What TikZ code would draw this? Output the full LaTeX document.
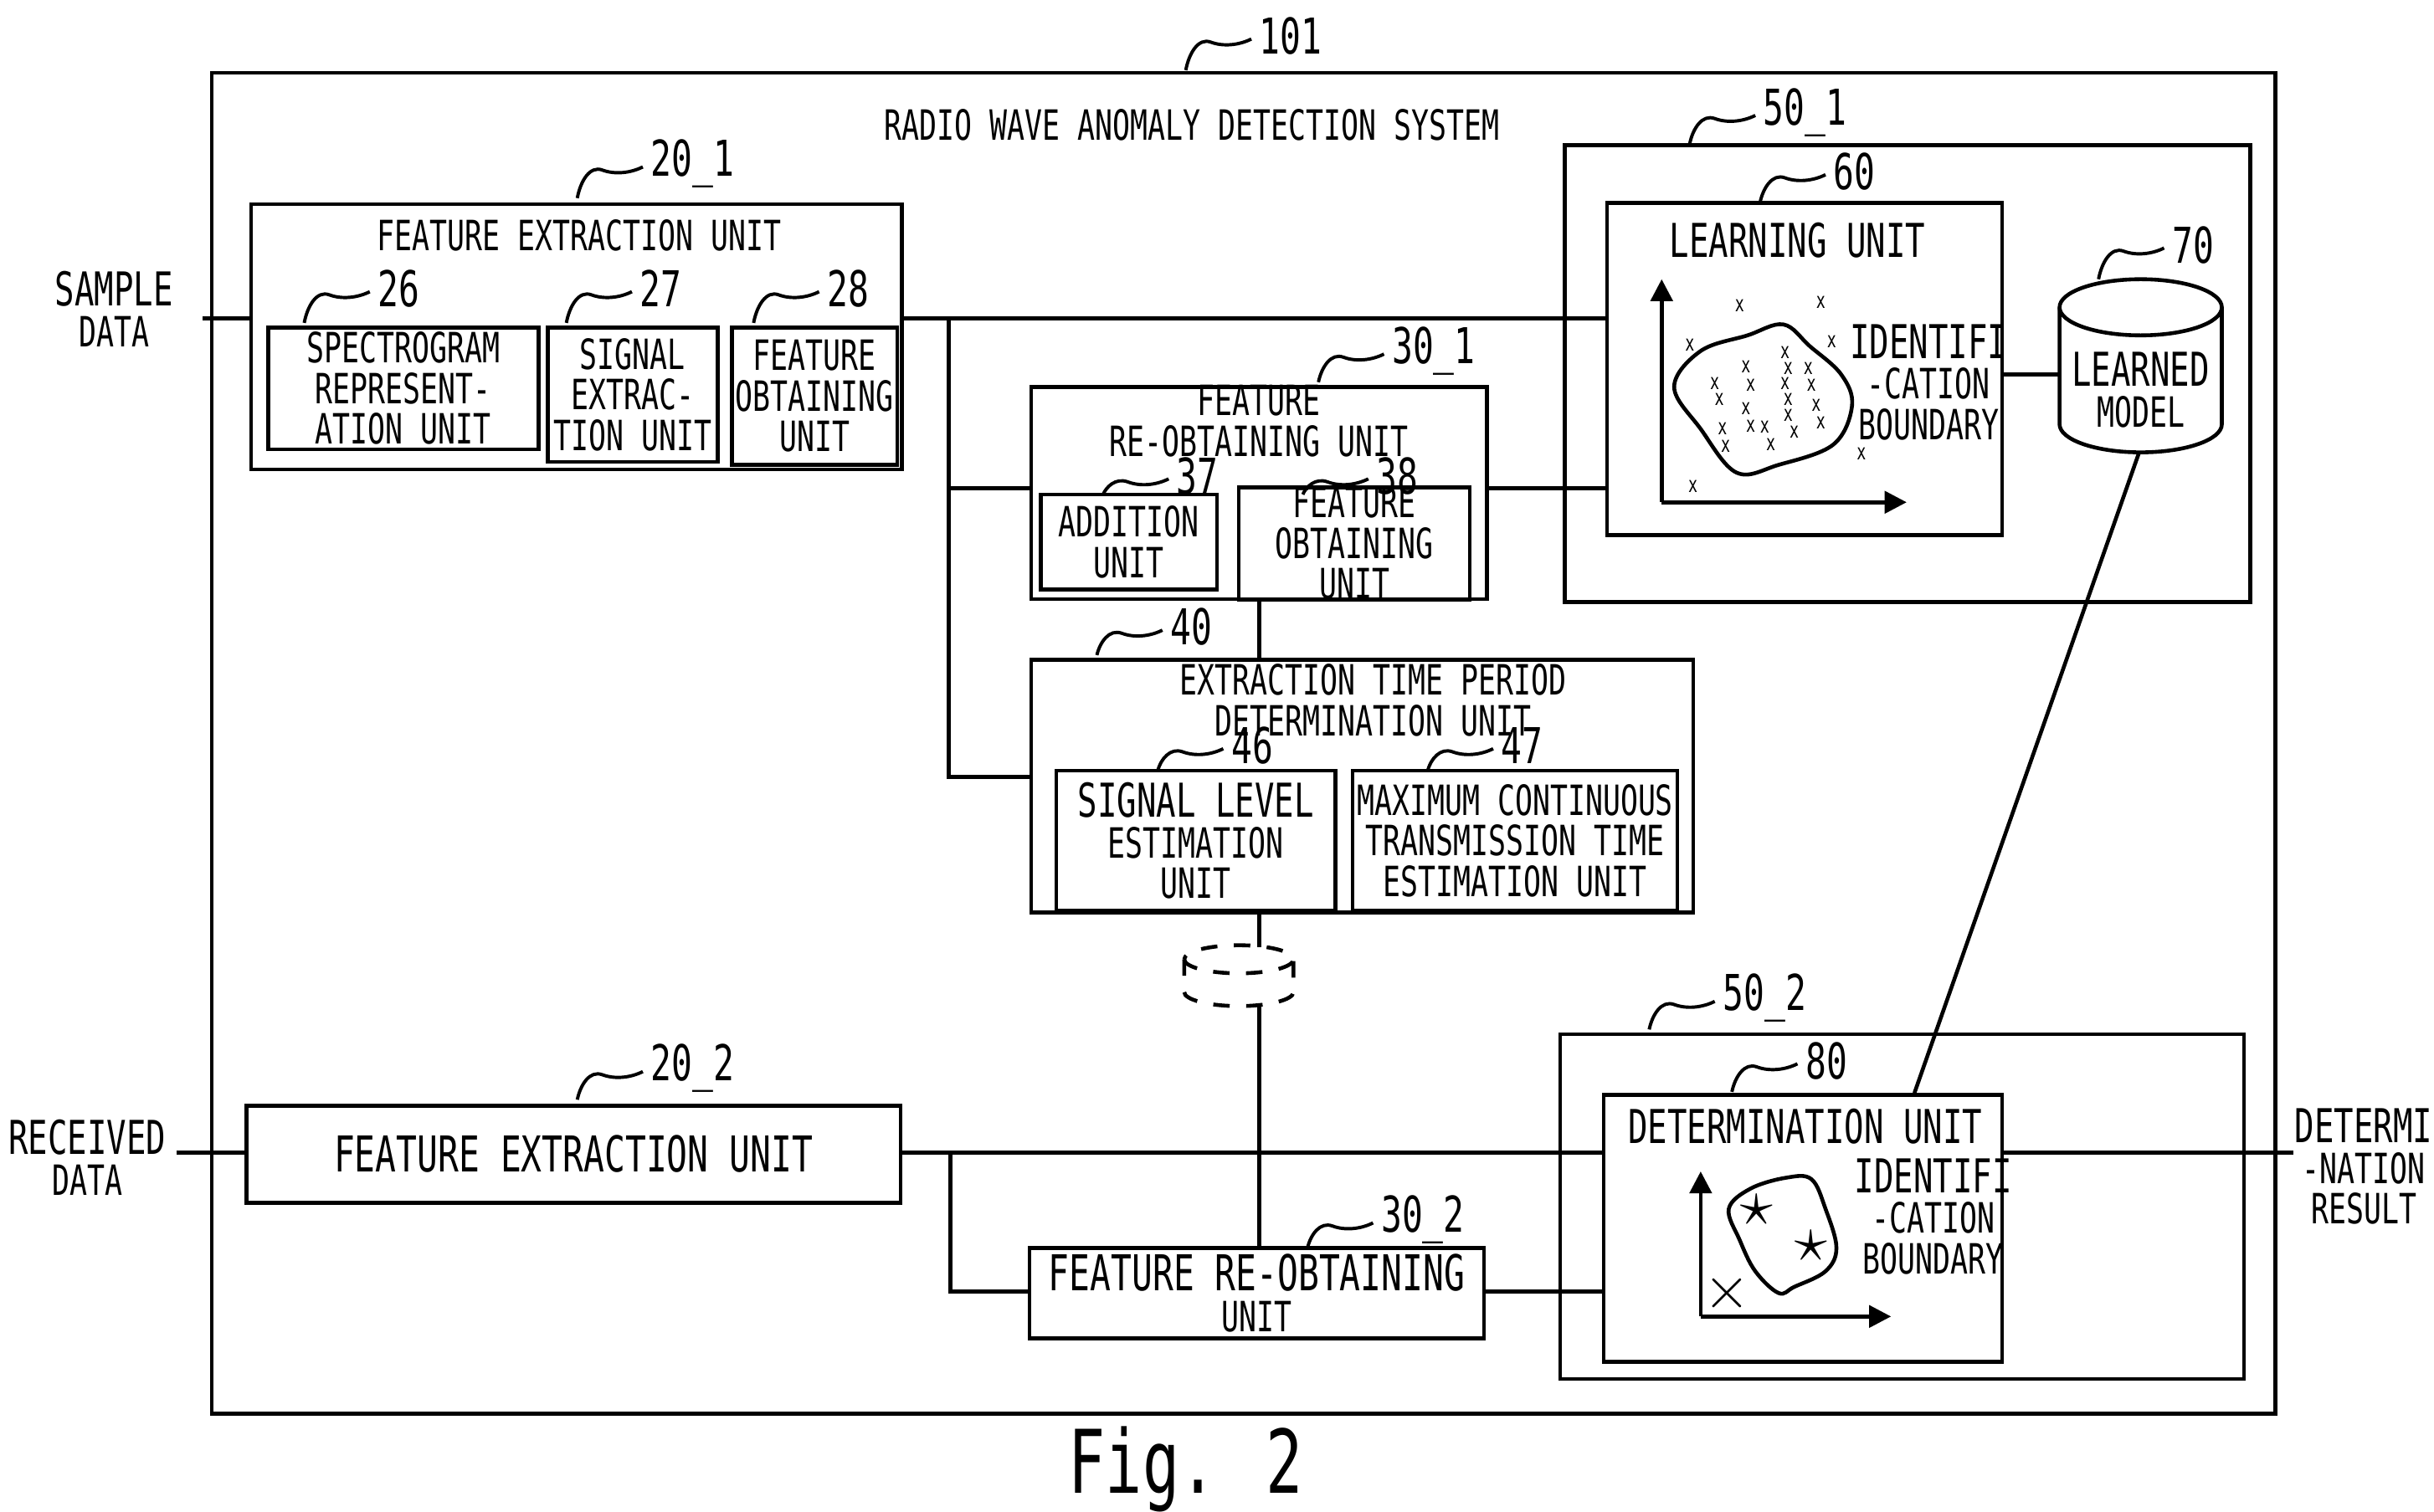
\documentclass[tikz,border=0pt]{standalone}
\usepackage{fontspec}
\setmainfont{DejaVu Sans Mono}[FakeStretch=0.7]
\usetikzlibrary{arrows.meta,shapes.geometric}
\begin{document}
\begin{tikzpicture}[x=0.01cm,y=-0.01cm,line width=0.7pt,
  every node/.style={font=\fontsize{7.6}{7.4}\selectfont,align=center,inner sep=0pt},
  box/.style={draw,rectangle},
  num/.style={font=\fontsize{9}{9}\selectfont,anchor=west},
  wv/.style={line width=0.6pt},
  ax/.style={-{Triangle[length=4pt,width=4pt]},line width=0.7pt},
  dot/.style={font=\fontsize{4}{4}\selectfont}]
\useasboundingbox (0,0) rectangle (1560,969);
\newcommand\wlab[4]{\draw[wv] (#1,#2) .. controls +(2,-#3*0.6) and +(-8,-3) .. ++(16,-#3) .. controls +(8,3) and +(-8,4) .. ++(26,-2); \node[num] at (#1+46,#2-#3-4) {#4};}
% outer
\node[box,minimum width=13.22cm,minimum height=8.59cm] (sys) at (797,476.5) {};
\wlab{760}{45}{18}{101}
\node (title) at (764,80) {RADIO WAVE ANOMALY DETECTION SYSTEM};
% 20_1
\node[box,minimum width=4.17cm,minimum height=1.7cm] (f1) at (369.5,216) {};
\node at (371,151) {FEATURE EXTRACTION UNIT};
\wlab{370}{127}{18}{20\_1}
\node[box,minimum width=1.73cm,minimum height=0.78cm] (u26) at (258.5,249) {SPECTROGRAM\\REPRESENT-\\ATION UNIT};
\wlab{195}{207}{18}{26}
\node[box,minimum width=1.09cm,minimum height=0.86cm] (u27) at (405.5,253) {SIGNAL\\EXTRAC-\\TION UNIT};
\wlab{363}{207}{18}{27}
\node[box,minimum width=1.06cm,minimum height=0.88cm] (u28) at (522,254) {FEATURE\\OBTAINING\\UNIT};
\wlab{483}{207}{18}{28}
\node (sd) at (73,198) {\fontsize{8.5}{12}\selectfont SAMPLE\\DATA};
\coordinate (sdin) at (130,204);
\draw (sdin) -- (f1.west|-sdin);
% 30_1
\node[box,minimum width=2.92cm,minimum height=1.36cm] (r1) at (807,316) {};
\node at (807,270) {\fontsize{7.6}{5.6}\selectfont FEATURE\\RE-OBTAINING UNIT};
\wlab{845}{245}{16}{30\_1}
\node[box,minimum width=1.13cm,minimum height=0.61cm] (u37) at (723.5,347.5) {ADDITION\\UNIT};
\wlab{707}{317}{8}{37}
\node[box,minimum width=1.48cm,minimum height=0.63cm] (u38) at (868,348.5) {FEATURE\\OBTAINING\\UNIT};
\wlab{835}{317}{8}{38}
% 40
\node[box,minimum width=4.24cm,minimum height=1.62cm] (e40) at (873,504) {};
\node at (880,449) {\fontsize{7.6}{5.6}\selectfont EXTRACTION TIME PERIOD\\DETERMINATION UNIT};
\wlab{703}{420}{14}{40}
\node[box,minimum width=1.79cm,minimum height=0.9cm] (u46) at (766.5,539) {\fontsize{8.5}{12}\selectfont SIGNAL LEVEL\\ESTIMATION\\UNIT};
\wlab{742}{494}{12}{46}
\node[box,minimum width=2.08cm,minimum height=0.9cm] (u47) at (971,539) {MAXIMUM CONTINUOUS\\TRANSMISSION TIME\\ESTIMATION UNIT};
\wlab{915}{494}{12}{47}
% dashed cylinder
\coordinate (cyt) at (807,607);
\coordinate (cyb) at (807,645);
\draw[dashed] (759,615) arc[start angle=180,end angle=-180,x radius=35,y radius=9];
\draw[dashed] (759,615) -- (759,636) arc[start angle=180,end angle=0,x radius=35,y radius=9] -- (829,615);
% 50_1
\node[box,minimum width=4.39cm,minimum height=2.93cm] (g1) at (1222.5,239.5) {};
\wlab{1083}{92}{16}{50\_1}
\node[box,minimum width=2.53cm,minimum height=2.13cm] (lu) at (1156.5,236.5) {};
\node at (1152,154) {\fontsize{8.5}{9}\selectfont LEARNING UNIT};
\wlab{1128}{130}{16}{60}
\draw[ax] (1065,322) -- (1065,179);
\draw[ax] (1065,322) -- (1222,322);
\draw plot[smooth cycle,tension=0.6] coordinates {(1073,248)(1090,225)(1120,215)(1143,208)(1160,222)(1180,240)(1187,260)(1175,285)(1140,298)(1113,303)(1090,275)};
\foreach \a/\b in {1115/196,1167/194,1083/221,1174/219,1144/226,1119/235,1146/236,1159/236,1099/246,1122/247,1144/246,1161/247,1102/256,1146/256,1164/260,1119/262,1146/266,1167/271,1104/275,1122/273,1131/274,1150/277,1106/286,1135/285,1193/291,1085/312}
  \node[dot] at (\a,\b) {x};
\node (ib1) at (1236,245) {\fontsize{8.5}{8.5}\selectfont IDENTIFI\\-CATION\\BOUNDARY};
% 70
\draw (1320,197) arc[start angle=180,end angle=-180,x radius=52,y radius=18];
\draw (1320,197) -- (1320,272) arc[start angle=180,end angle=0,x radius=52,y radius=18] -- (1424,197);
\coordinate (c70w) at (1320,240);
\coordinate (c70b) at (1371,290);
\node at (1372,250) {\fontsize{8.5}{13}\selectfont LEARNED\\MODEL};
\wlab{1345}{179}{18}{70}
% 50_2
\node[box,minimum width=4.38cm,minimum height=2.21cm] (g2) at (1219,773.5) {};
\wlab{1057}{660}{16}{50\_2}
\node[box,minimum width=2.55cm,minimum height=1.71cm] (du) at (1155.5,787.5) {};
\node at (1157,722) {\fontsize{8.5}{9}\selectfont DETERMINATION UNIT};
\wlab{1110}{700}{16}{80}
\draw[ax] (1090,844) -- (1090,751);
\draw[ax] (1090,844) -- (1212,844);
\draw plot[smooth cycle,tension=0.6] coordinates {(1108,775)(1122,762)(1145,755)(1161,756)(1170,775)(1177,800)(1170,815)(1150,825)(1140,829)(1125,815)(1115,795)};
\node at (1126,776) {\fontsize{13}{13}\selectfont$\star$};
\node at (1161,799) {\fontsize{13}{13}\selectfont$\star$};
\node at (1107,829) {\fontsize{11}{11}\selectfont$\times$};
\node at (1239,780) {\fontsize{8.5}{8.5}\selectfont IDENTIFI\\-CATION\\BOUNDARY};
% 20_2
\node[box,minimum width=4.19cm,minimum height=0.62cm] (f2) at (367.5,740) {\fontsize{9}{9}\selectfont FEATURE EXTRACTION UNIT};
\wlab{370}{705}{16}{20\_2}
\node (rd) at (56,742) {\fontsize{8.5}{12}\selectfont RECEIVED\\DATA};
\coordinate (rdin) at (113,739);
\draw (rdin) -- (f2.west|-rdin);
% 30_2
\node[box,minimum width=2.91cm,minimum height=0.58cm] (r2) at (805.5,829) {\fontsize{9}{10}\selectfont FEATURE RE-OBTAINING\\UNIT};
\wlab{838}{800}{14}{30\_2}
% output
\node (out) at (1515,748) {\fontsize{8.5}{12}\selectfont DETERMI\\-NATION\\RESULT};
\coordinate (outp) at (1470,739);
% connectors
\coordinate (j1) at (608,204);
\draw (f1.east|-j1) -- (lu.west|-j1);
\draw (j1) -- (608,498) -- (e40.west|-0,498);
\draw (608,313) -- (r1.west|-0,313);
\draw (r1.east|-0,313) -- (lu.west|-0,313);
\draw (r1.south-|807,0) -- (e40.north-|807,0);
\draw (e40.south-|807,0) -- (cyt);
\draw (cyb) -- (r2.north-|807,0);
\draw (lu.east|-c70w) -- (c70w);
\draw (c70b) -- (du.north-|1227,0);
\coordinate (j2) at (609,739);
\draw (f2.east|-j2) -- (du.west|-j2);
\draw (j2) -- (609,828) -- (r2.west|-0,828);
\draw (r2.east|-0,828) -- (du.west|-0,828);
\draw (du.east|-outp) -- (outp);
\node (fig) at (760,942) {\fontsize{16}{16}\selectfont Fig. 2};
\end{tikzpicture}
\end{document}
